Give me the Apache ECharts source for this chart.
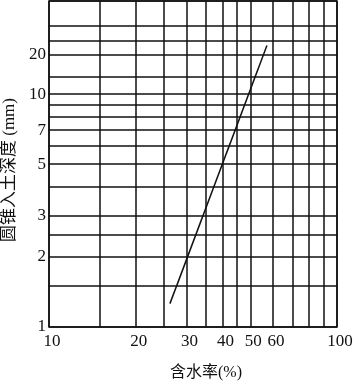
<!DOCTYPE html>
<html>
<head>
<meta charset="utf-8">
<script src="https://cdn.jsdelivr.net/npm/echarts@6/dist/echarts.min.js"></script>
<style>
  html, body { margin: 0; padding: 0; background: #fff; }
  #main { width: 353px; height: 382px; }
</style>
</head>
<body>
<div id="main"></div>
<script>
// 含水率 (%) 与 圆锥入土深度 (mm) 的双对数关系线
var waterContent = [26.3, 57.1];
var penetration = [1.26, 23.3];

// 网格线与刻度标签
var xGrid = [10, 15, 20, 25, 30, 35, 40, 45, 50, 60, 70, 80, 90, 100];
var xLabels = [10, 20, 30, 40, 50, 60, 100];
var yGrid = [1, 1.5, 2, 2.5, 3, 4, 5, 6, 7, 8, 9, 10, 15, 20, 25, 30, 40];
var yLabels = [1, 2, 3, 5, 7, 10, 20];

// y 轴 10 以上的刻度在原图中被压缩，这里按原图位置分段映射
var yUpperVals = [10, 15, 20, 25, 30, 40];
var yUpperUnits = [1, 1.073, 1.171, 1.229, 1.294, 1.4];

function toX(v) { return Math.log10(v); }
function toY(v) {
    if (v <= 10) return Math.log10(v);
    for (var i = 1; i < yUpperVals.length; i++) {
        if (v <= yUpperVals[i]) {
            var t = (v - yUpperVals[i - 1]) / (yUpperVals[i] - yUpperVals[i - 1]);
            return yUpperUnits[i - 1] + t * (yUpperUnits[i] - yUpperUnits[i - 1]);
        }
    }
    return yUpperUnits[yUpperUnits.length - 1];
}
function findLabel(list, fn, v) {
    for (var i = 0; i < list.length; i++) {
        if (Math.abs(fn(list[i]) - v) < 1e-6) return String(list[i]);
    }
    return '';
}

var font = "'Liberation Serif', 'Noto Sans CJK SC', serif";
var lineColor = '#111';

var chart = echarts.init(document.getElementById('main'));
var option = {
    animation: false,
    grid: {
        left: 49, right: 16, top: 1, bottom: 55,
        outerBoundsMode: 'none',
        show: true, borderColor: lineColor, borderWidth: 1.5
    },
    xAxis: {
        type: 'value',
        min: 1, max: 2,
        name: '含水率(%)',
        nameLocation: 'middle',
        nameGap: 38,
        nameTextStyle: { fontFamily: font, fontSize: 16, color: '#111', padding: [0, 0, 0, 26] },
        axisLine: { show: false },
        axisTick: { show: false, customValues: xGrid.map(toX) },
        splitLine: { show: true, lineStyle: { color: lineColor, width: 1.5 } },
        axisLabel: {
            customValues: xLabels.map(toX),
            formatter: function (v) { return findLabel(xLabels, toX, v); },
            fontFamily: font, fontSize: 17, color: '#111', margin: 6,
            padding: [0, 0, 0, 6]
        }
    },
    yAxis: {
        type: 'value',
        min: 0, max: 1.4,
        name: '圆锥入土深度 (mm)',
        nameLocation: 'middle',
        nameGap: 31,
        nameRotate: 90,
        nameTextStyle: { fontFamily: font, fontSize: 17, color: '#111', padding: [0, 12, 0, 0] },
        axisLine: { show: false },
        axisTick: { show: false, customValues: yGrid.map(toY) },
        splitLine: { show: true, lineStyle: { color: lineColor, width: 1.5 } },
        axisLabel: {
            customValues: yLabels.map(toY),
            formatter: function (v) { return findLabel(yLabels, toY, v); },
            fontFamily: font, fontSize: 17, color: '#111', margin: 3
        }
    },
    series: [{
        type: 'line',
        data: waterContent.map(function (w, i) { return [toX(w), toY(penetration[i])]; }),
        symbol: 'none',
        lineStyle: { color: lineColor, width: 1.5 }
    }]
};
chart.setOption(option);
</script>
</body>
</html>
